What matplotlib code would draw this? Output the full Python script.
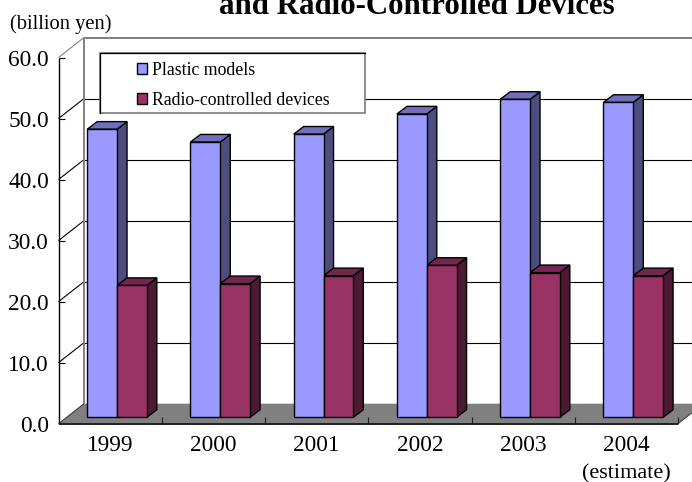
import matplotlib
matplotlib.use('Agg')
import matplotlib.pyplot as plt
from matplotlib.patches import Polygon, Patch, Rectangle

plt.rcParams['font.family'] = ['Liberation Serif', 'DejaVu Serif']

years = ['1999', '2000', '2001', '2002', '2003', '2004']
plastic = [47.2, 45.1, 46.4, 49.7, 52.1, 51.6]
radio = [21.6, 21.9, 23.2, 24.9, 23.7, 23.2]
y_ticks = [0, 10, 20, 30, 40, 50, 60]

W, H = 692, 482
fig = plt.figure(figsize=(W / 100, H / 100), dpi=100, facecolor='white')

# axes cover the front plane of the 3d box, everything behind it spills out
left, right, bottom, top = 58.5, 678.0, 423.7, 57.5
ax = fig.add_axes([left / W, 1 - bottom / H, (right - left) / W, (bottom - top) / H])
ax.set_xlim(0, len(years))
ax.set_ylim(0, 60)
ax.axis('off')

# pixel offsets turned into data units
ux = (right - left) / len(years)
uy = (bottom - top) / 60


def off(px, py):
    return px / ux, py / uy


def poly(pts, fc, ec='black', lw=1.0, z=2):
    ax.add_patch(Polygon(pts, closed=True, facecolor=fc, edgecolor=ec, linewidth=lw,
                         joinstyle='miter', clip_on=False, zorder=z))


def line(xs, ys, color='black', lw=0.8, z=1):
    ax.plot(xs, ys, color=color, lw=lw, clip_on=False, zorder=z, solid_capstyle='butt')


wall_x, wall_y = off(25.5, 20)
n = len(years)

# floor
poly([(0, 0), (n, 0), (n + wall_x, wall_y), (wall_x, wall_y)], '#808080', ec='none', z=1)

# back wall lines and the diagonals running to the axis
for v in y_ticks[1:]:
    c = '#808080' if v == 60 else 'black'
    w = 1.4 if v == 60 else 0.8
    line([0, wall_x], [v, v + wall_y], color=c)
    line([wall_x, n + wall_x], [v + wall_y, v + wall_y], color=c, lw=w)
    line([0, 0.06], [v, v])
line([wall_x, wall_x], [wall_y, 60 + wall_y], color='#808080', lw=1.4)
line([0, wall_x], [0, wall_y], color='#404040', z=1.5)
line([n, n + wall_x], [0, wall_y], color='#404040', z=1.5)

# axis lines and category ticks
line([0, 0], [0, 60], lw=1.0, z=6)
line([0, n], [0, 0], color='#202020', lw=1.4, z=6)
for i in range(1, n + 1):
    line([i, i], [0, 1.1], color='#202020', z=1.5)

# bars
bar_w = 29.8 / ux
front_x, front_y = off(7.4, 6.4)
dx, dy = off(10, 7.6)


def bar3d(x0, value, front, side, roof):
    x1 = x0 + bar_w
    base = front_y
    h = value + base
    poly([(x1, base), (x1 + dx, base + dy), (x1 + dx, h + dy), (x1, h)], side, z=3)
    poly([(x0, h), (x1, h), (x1 + dx, h + dy), (x0 + dx, h + dy)], roof, z=3)
    poly([(x0, base), (x1, base), (x1, h), (x0, h)], front, z=4)


for i in range(n):
    x_blue = i + 0.5 + front_x - bar_w - 0.5 / ux
    bar3d(x_blue, plastic[i], '#9999FF', '#4D4D80', '#6F6FBC')
    bar3d(x_blue + bar_w, radio[i], '#993366', '#4D1A33', '#732650')

# tick labels
for v in y_ticks:
    ax.text(-9.5 / ux, v, f'{v:.1f}', ha='right', va='center_baseline', fontsize=16.8, color='black')
for i, y in enumerate(years):
    ax.text(i + 0.5, -19.5 / uy, y, ha='center', va='center_baseline', fontsize=16.8, color='black')
ax.text(5.5, -47.5 / uy, '(estimate)', ha='center', va='center_baseline', fontsize=16, color='black')

# legend frame sits over the wall lines, with a darker top and left edge
fig.add_artist(Rectangle((99.5 / W, 1 - 112.7 / H), 266 / W, 59.7 / H, transform=fig.transFigure,
                         facecolor='white', edgecolor='#707070', linewidth=1.1, zorder=7))
fig.add_artist(plt.Line2D([99.5 / W, 99.5 / W, 365.5 / W], [1 - 112.7 / H, 1 - 53 / H, 1 - 53 / H],
                          color='black', lw=0.9, zorder=7))
handles = [Patch(facecolor='#9999FF', edgecolor='black', label='Plastic models'),
           Patch(facecolor='#993366', edgecolor='black', label='Radio-controlled devices')]
leg = fig.legend(handles=handles, loc='upper left', bbox_to_anchor=(137 / W, 1 - 62 / H),
                 frameon=False, fontsize=12.8, handlelength=0.55, handleheight=0.55,
                 handletextpad=0.32, labelspacing=0.72, borderpad=0, borderaxespad=0)
leg.set_zorder(8)

fig.text(61 / W, 1 - 21.5 / H, '(billion yen)', ha='center', va='center_baseline', fontsize=14.8)
fig.text(417 / W, 1 - 14 / H, 'and Radio-Controlled Devices', ha='center', va='baseline',
         fontsize=22.2, fontweight='bold')

fig.savefig('out.png', dpi=100)
